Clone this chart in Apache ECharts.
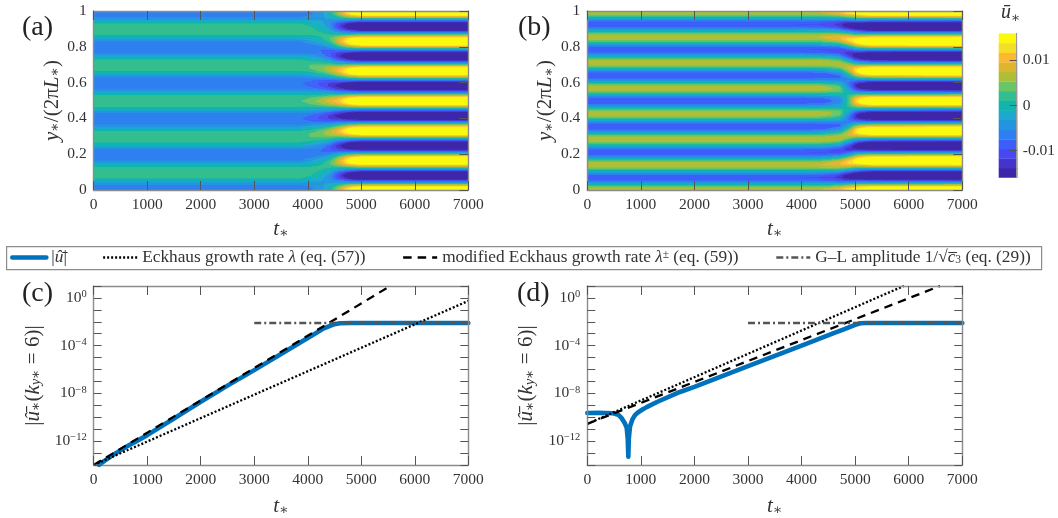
<!DOCTYPE html>
<html><head><meta charset="utf-8">
<script src="https://cdn.jsdelivr.net/npm/echarts@6/dist/echarts.min.js"></script>
<style>html,body{margin:0;padding:0;background:#fff}#c{width:1058px;height:518px}</style>
</head><body><div id="c"></div>
<script>
// ---- colour levels (15 contour bands between -0.016 and 0.016) ----
const uMin = -0.016, uMax = 0.016;
const levelColors = ['#3E26A8','#4433CC','#4748F0','#3D5EFB','#2E80F0','#2394E0','#1BA9CE','#0FB5AE','#33BE8F','#69C565','#ACBF36','#DEB62E','#FDB832','#F4DE27','#FBF90F'];

// ---- panel (a): u (units 1e-4) at y = 0, 1/60 ... 1/2; field is mirrored about y = 1/2 ----
const tA = [0,3850,4000,4120,4250,4400,4500,4600,4700,4800,5000,7000];
const a0 = [-73,-66,-52,-21,10,24,31,24,10,-21,-52,-66,-73,-66,-52,-21,10,24,31,24,10,-21,-52,-66,-73,-66,-52,-21,10,24,31];
const a1 = [-63,-58,-44,-24,-3,14,23,21,8,-13,-37,-58,-70,-69,-55,-31,-3,21,31,32,15,-13,-44,-69,-81,-76,-55,-24,8,31,40];
const a2 = [-51,-48,-40,-28,-13,2,13,17,12,-3,-25,-48,-66,-73,-65,-43,-13,17,38,42,27,-3,-40,-73,-91,-88,-65,-28,12,42,53];
const a3 = [-35,-35,-35,-32,-25,-14,0,11,15,8,-10,-35,-60,-75,-75,-57,-25,11,40,51,40,8,-35,-75,-100,-100,-75,-32,15,51,65];
const a4 = [0,-6,-22,-40,-51,-46,-28,-1,22,33,23,-6,-45,-79,-95,-85,-51,-1,45,72,67,33,-22,-79,-118,-124,-95,-40,22,72,90];
const a5 = [45,31,-6,-49,-82,-89,-67,-23,24,57,60,31,-21,-75,-112,-115,-82,-23,39,83,90,57,-6,-75,-127,-141,-112,-49,24,83,105];
const a6 = [92,70,15,-54,-107,-124,-98,-38,33,86,101,70,6,-70,-125,-140,-107,-38,42,102,119,86,15,-70,-134,-156,-125,-54,33,102,128];
const a7 = [135,106,33,-58,-130,-156,-125,-49,43,115,140,106,28,-67,-140,-165,-130,-49,48,124,150,115,33,-67,-145,-174,-140,-58,43,124,155];
const a8 = [170,137,48,-61,-149,-181,-146,-57,53,141,172,137,46,-65,-154,-185,-149,-57,56,145,177,141,48,-65,-156,-189,-154,-61,53,145,180];
const a9 = [215,174,66,-66,-174,-215,-174,-66,66,174,215,174,66,-66,-174,-215,-174,-66,66,174,215,174,66,-66,-174,-215,-174,-66,66,174,215];
const fieldA = [a0,a0,a1,a2,a3,a4,a5,a6,a7,a8,a9,a9];

// ---- panel (b): u (units 1e-4) at y = 0, 1/84 ... 1/2; field is mirrored about y = 1/2 ----
const tB = [0,3900,4300,4500,4600,4700,4800,4900,5000,5100,5300,7000];
const b0 = [74,63,32,-11,-54,-85,-96,-85,-54,-11,32,63,74,63,32,-11,-54,-85,-96,-85,-54,-11,32,63,74,63,32,-11,-54,-85,-96,-85,-54,-11,32,63,74,63,32,-11,-54,-85,-96];
const b1 = [77,66,34,-10,-55,-87,-99,-88,-57,-13,31,64,76,66,35,-8,-52,-84,-97,-87,-57,-14,29,61,73,64,34,-8,-51,-82,-94,-84,-55,-13,29,60,71,61,31,-10,-52,-82,-93];
const b2 = [89,77,41,-8,-57,-94,-110,-100,-68,-20,29,66,83,77,47,3,-45,-82,-99,-94,-68,-26,18,54,71,66,41,3,-39,-71,-87,-82,-57,-20,18,48,60,54,29,-8,-45,-71,-81];
const b3 = [99,86,48,-5,-60,-101,-119,-110,-77,-27,26,69,90,86,57,12,-38,-79,-102,-101,-77,-36,9,47,68,69,48,12,-29,-62,-80,-79,-60,-27,9,38,51,47,26,-5,-38,-62,-71];
const b4 = [109,95,54,-3,-62,-107,-128,-120,-86,-33,24,71,96,95,67,21,-32,-77,-104,-107,-86,-46,0,41,66,71,54,21,-19,-53,-74,-77,-62,-33,0,28,42,41,24,-3,-32,-53,-61];
const b5 = [134,118,71,6,-63,-119,-149,-147,-114,-58,7,67,106,118,99,57,1,-55,-98,-119,-114,-86,-44,3,42,67,71,57,29,-4,-34,-55,-63,-58,-44,-25,-9,3,7,6,1,-4,-6];
const b6 = [150,132,84,15,-60,-122,-159,-163,-134,-79,-10,58,109,132,125,89,34,-28,-85,-122,-134,-120,-84,-36,15,58,84,89,75,46,9,-28,-60,-79,-84,-77,-59,-36,-10,15,34,46,50];
const b7 = [164,146,97,27,-49,-116,-161,-173,-151,-99,-29,44,107,146,154,129,77,10,-59,-116,-151,-156,-131,-82,-19,44,97,129,134,112,67,10,-49,-99,-131,-139,-121,-82,-29,27,77,112,124];
const b8 = [182,164,111,36,-47,-121,-171,-187,-166,-112,-37,45,116,164,177,155,101,27,-52,-121,-166,-178,-156,-103,-32,45,111,155,167,146,96,27,-47,-112,-156,-169,-151,-103,-37,36,101,146,162];
const b9 = [208,188,130,46,-48,-131,-188,-208,-187,-128,-44,49,131,188,207,185,126,43,-49,-131,-187,-205,-183,-125,-43,49,130,185,203,182,125,43,-48,-128,-183,-202,-182,-125,-44,46,126,182,202];
const b10 = [215,194,134,48,-48,-134,-194,-215,-194,-134,-48,48,134,194,215,194,134,48,-48,-134,-194,-215,-194,-134,-48,48,134,194,215,194,134,48,-48,-134,-194,-215,-194,-134,-48,48,134,194,215];
const fieldB = [b0,b0,b1,b2,b3,b4,b5,b6,b7,b8,b9,b10];

// ---- panels (c), (d): log10 of the amplitude read at time t ----
const tC = [100,200,400,600,800,1000,1500,2000,2500,3000,3500,4000,4300,4500,4600,4800,7000];
const uC = [-14,-13.65,-13.05,-12.5,-12,-11.5,-10.1,-8.7,-7.35,-6.05,-4.7,-3.35,-2.55,-2.2,-2.12,-2.1,-2.1];
const dottedC = [[0,-14],[7000,-0.25]];
const dashedC = [[0,-14],[5540,1]];
const tD = [0,200,480,580,642,700,735,755,766,775,797,840,890,950,1030,1108,1300,1730,2000,3000,4000,4600,4800,5000,5100,5200,7000];
const uD = [-9.64,-9.62,-9.66,-9.8,-10.08,-10.5,-10.87,-11.8,-13.3,-11.8,-10.77,-10.2,-9.82,-9.58,-9.35,-9.15,-8.72,-7.88,-7.45,-5.72,-4.0,-2.95,-2.62,-2.25,-2.12,-2.1,-2.1];
const dottedD = [[0,-10.55],[5908,1]];
const dashedD = [[0,-10.55],[6584,1]];
const glLevel = [[3000,-2.1],[7000,-2.1]];
const logTicks = [1e-14,1e-13,1e-12,1e-11,1e-10,1e-9,1e-8,1e-7,1e-6,1e-5,1e-4,1e-3,1e-2,1e-1,1,10];
const logLabels = [1e-12,1e-8,1e-4,1];

const xTicksMax = 7000;
const legendNames = ['|û̄|','Eckhaus growth rate λ (eq. (57))','modified Eckhaus growth rate λ± (eq. (59))','G–L amplitude 1/√c3 (eq. (29))'];
const legendRich = {
  [legendNames[0]]:'|{i|û̄}|',
  [legendNames[1]]:'Eckhaus growth rate {i|λ} (eq. (57))',
  [legendNames[2]]:'modified Eckhaus growth rate {i|λ}{u|±} (eq. (59))',
  [legendNames[3]]:'G–L amplitude 1/√{i|c̅}{d|3} (eq. (29))'
};
const legendLeft = [10,102,402,775];

const SERIF = '"Liberation Serif","DejaVu Serif",serif';
const INK = '#333';

function levelOf(v){ // v in units of 1e-4
  const l = Math.floor((v*1e-4-uMin)/(uMax-uMin)*levelColors.length);
  return Math.max(0,Math.min(levelColors.length-1,l));
}
// contour-fill cells from the typed field table
function contourCells(ts,field){
  const n = field[0].length-1, out=[], ny=358, dt=20;
  for(let r=0;r<ny;r++){
    const y0=r/ny,y1=(r+1)/ny,yc=(y0+y1)/2,ym=(yc>0.5?1-yc:yc)*2*n;
    const iy=Math.min(n-1,Math.floor(ym)),fy=ym-iy;
    let start=0,cur=-1;
    for(let t=0;t<=xTicksMax;t+=dt){
      let k=0; while(k<ts.length-2&&t>ts[k+1])k++;
      const ft=(t-ts[k])/(ts[k+1]-ts[k]);
      const p=field[k][iy]*(1-fy)+field[k][iy+1]*fy;
      const q=field[k+1][iy]*(1-fy)+field[k+1][iy+1]*fy;
      const l=levelOf(p*(1-ft)+q*ft);
      if(l!==cur){ if(cur>=0)out.push([start,t,y0,y1,cur]); start=t;cur=l; }
    }
    out.push([start,xTicksMax,y0,y1,cur]);
  }
  return out;
}
function renderCell(params,api){
  const a=api.coord([api.value(0),api.value(3)]), b=api.coord([api.value(1),api.value(2)]);
  return {type:'rect',shape:{x:a[0],y:a[1],width:b[0]-a[0]+0.7,height:b[1]-a[1]+0.4},
    style:{fill:levelColors[api.value(4)],stroke:null},silent:true};
}
const pairs=(ts,vs)=>ts.map((t,i)=>[t,Math.pow(10,vs[i])]);
const expPairs=p=>p.map(q=>[q[0],Math.pow(10,q[1])]);

const gridBoxes=[
  {left:93.7,top:11,width:374.6,height:179},
  {left:587.3,top:11,width:375,height:179},
  {left:93.7,top:286,width:374.6,height:185.5},
  {left:587.3,top:286,width:375,height:185.5},
  {left:998.7,top:33.3,width:18.6,height:144.4}
];
const FRAME={lineStyle:{color:'#8c8c8c',width:1.4}};
const TICK_COL='#555';
const tickFont={fontFamily:SERIF,fontSize:15.5,color:INK};
const nameRich={
  i:{fontFamily:SERIF,fontStyle:'italic',fontSize:21,color:INK},
  n:{fontFamily:SERIF,fontSize:21,color:INK},
  s:{fontFamily:SERIF,fontStyle:'italic',fontSize:14,color:INK,verticalAlign:'bottom',padding:[6,0,0,0]}
};
const xAxes=[],yAxes=[];
[0,1,2,3].forEach(g=>{
  const base={type:'value',gridIndex:g,min:0,max:7000,interval:1000,z:10,axisLine:Object.assign({onZero:false},FRAME),splitLine:{show:false}};
  xAxes.push(Object.assign({},base,{position:'bottom',
    axisTick:{inside:true,length:9,lineStyle:{color:TICK_COL}},
    axisLabel:Object.assign({margin:7,hideOverlap:false,formatter:v=>String(v)},tickFont),
    name:'{i|t}{s|∗}',nameLocation:'middle',nameGap:g<2?29:31,nameTextStyle:{rich:nameRich}}));
  xAxes.push(Object.assign({},base,{position:'top',
    axisTick:{inside:true,length:9,lineStyle:{color:TICK_COL}},axisLabel:{show:false}}));
  if(g<2){
    const yb={type:'value',gridIndex:g,min:0,max:1,interval:0.2,z:10,splitLine:{show:false},axisLine:Object.assign({onZero:false},FRAME)};
    yAxes.push(Object.assign({},yb,{position:'left',axisTick:{show:false},
      axisLabel:Object.assign({margin:7},tickFont),
      name:'{i|y}{s|∗}{n|/(2π}{i|L}{s|∗}{n|)}',nameLocation:'middle',nameRotate:90,nameGap:31,nameTextStyle:{rich:nameRich}}));
    yAxes.push(Object.assign({},yb,{position:'right',axisTick:{inside:true,length:9,lineStyle:{color:TICK_COL}},axisLabel:{show:false}}));
  }else{
    const yb={type:'log',logBase:10,gridIndex:g,min:1e-14,max:10,splitNumber:15,z:10,splitLine:{show:false},axisLine:Object.assign({onZero:false},FRAME)};
    yAxes.push(Object.assign({},yb,{position:'left',axisTick:{inside:true,length:8,lineStyle:{color:TICK_COL},customValues:logTicks},
      axisLabel:{margin:7,customValues:logLabels,fontFamily:SERIF,fontSize:15.5,color:INK,
        formatter:v=>{const e=Math.round(Math.log10(v));return '10{sup|'+(e===0?'0':'−'+(-e))+'}';},
        rich:{sup:{fontFamily:SERIF,fontSize:10.5,color:INK,verticalAlign:'top',padding:[0,0,7,0]}}},
      name:'{n||}{i|û̄}{s|∗}{n|(}{i|k}{s|y∗}{n| = 6)|}',nameLocation:'middle',nameRotate:90,nameGap:50,nameTextStyle:{rich:nameRich}}));
    yAxes.push(Object.assign({},yb,{position:'right',axisTick:{inside:true,length:8,lineStyle:{color:TICK_COL},customValues:logTicks},axisLabel:{show:false}}));
  }
});
// colour bar axes
xAxes.push({type:'value',gridIndex:4,min:0,max:1,show:false});
yAxes.push({type:'value',gridIndex:4,min:uMin,max:uMax,position:'right',z:10,splitLine:{show:false},
  axisLine:{show:true,onZero:false,lineStyle:{color:'#999',width:1}},
  axisTick:{inside:true,length:7,lineStyle:{color:TICK_COL},customValues:[-0.01,0,0.01]},
  axisLabel:Object.assign({margin:6,customValues:[-0.01,0,0.01],formatter:v=>String(v)},tickFont)});

const colorbarCells=levelColors.map((c,i)=>[0,1,uMin+i*(uMax-uMin)/15,uMin+(i+1)*(uMax-uMin)/15,i]);
function cellSeries(g,data){
  return {type:'custom',xAxisIndex:g===4?8:2*g,yAxisIndex:g===4?8:2*g,coordinateSystem:'cartesian2d',renderItem:renderCell,
    encode:{x:[0,1],y:[2,3]},data:data,animation:false,silent:true,progressive:0,clip:true,z:2};
}
function lineSeries(g,name,data,ls,z){
  return {type:'line',name:name,xAxisIndex:2*g,yAxisIndex:2*g,data:data,showSymbol:false,symbol:'none',
    lineStyle:ls,itemStyle:{color:ls.color},z:z,animation:false,silent:true,clip:true};
}
const stU={color:'#0072BD',width:4.6,cap:'round',join:'round'};
const stDot={color:'#000',width:2.3,type:[2,2]};
const stDash={color:'#000',width:2.3,type:[8.5,6]};
const stGL={color:'#555',width:2.6,type:[7,3,2,3]};
const series=[
  cellSeries(0,contourCells(tA,fieldA)),
  cellSeries(1,contourCells(tB,fieldB)),
  cellSeries(4,colorbarCells),
  lineSeries(2,legendNames[0],pairs(tC,uC),stU,3),
  lineSeries(2,legendNames[1],expPairs(dottedC),stDot,4),
  lineSeries(2,legendNames[2],expPairs(dashedC),stDash,5),
  lineSeries(2,legendNames[3],expPairs(glLevel),stGL,6),
  lineSeries(3,legendNames[0],pairs(tD,uD),stU,3),
  lineSeries(3,legendNames[1],expPairs(dottedD),stDot,4),
  lineSeries(3,legendNames[2],expPairs(dashedD),stDash,5),
  lineSeries(3,legendNames[3],expPairs(glLevel),stGL,6)
];
const panelText=(x,y,t)=>({type:'text',left:x,top:y,silent:true,style:{text:t,fontFamily:SERIF,fontSize:28,fill:'#222'}});
const legendLine=[{width:4.6},{width:2.3},{width:2.3},{width:2.6}];
const option={
  animation:false,backgroundColor:'#fff',
  grid:gridBoxes.map(b=>Object.assign({containLabel:false},b)),
  xAxis:xAxes,yAxis:yAxes,series:series,
  legend:legendNames.map((n,i)=>({data:[n],left:legendLeft[i],top:249,itemWidth:34,itemHeight:14,padding:0,
    itemStyle:{opacity:0},lineStyle:legendLine[i],
    formatter:s=>legendRich[s],
    textStyle:{fontFamily:SERIF,fontSize:17.3,color:INK,rich:{
      i:{fontFamily:SERIF,fontStyle:'italic',fontSize:17.3,color:INK},
      u:{fontFamily:SERIF,fontSize:11.5,color:INK,verticalAlign:'top'},
      d:{fontFamily:SERIF,fontSize:11.5,color:INK,verticalAlign:'bottom'}}},
    selectedMode:false})),
  graphic:[
    {type:'rect',left:6,top:246,silent:true,z:-1,shape:{width:1035,height:23},style:{fill:'#fff',stroke:'#8c8c8c',lineWidth:1.2}},
    panelText(22,14,'(a)'),panelText(518,14,'(b)'),panelText(22,280,'(c)'),panelText(517,280,'(d)'),
    {type:'text',left:1001,top:3,silent:true,style:{text:'ū',fontFamily:SERIF,fontStyle:'italic',fontSize:20,fill:INK}},
    {type:'text',left:1011,top:11,silent:true,style:{text:'∗',fontFamily:SERIF,fontStyle:'italic',fontSize:14,fill:INK}}
  ]
};
const chart=echarts.init(document.getElementById('c'),null,{renderer:'canvas'});
chart.setOption(option);
</script></body></html>
